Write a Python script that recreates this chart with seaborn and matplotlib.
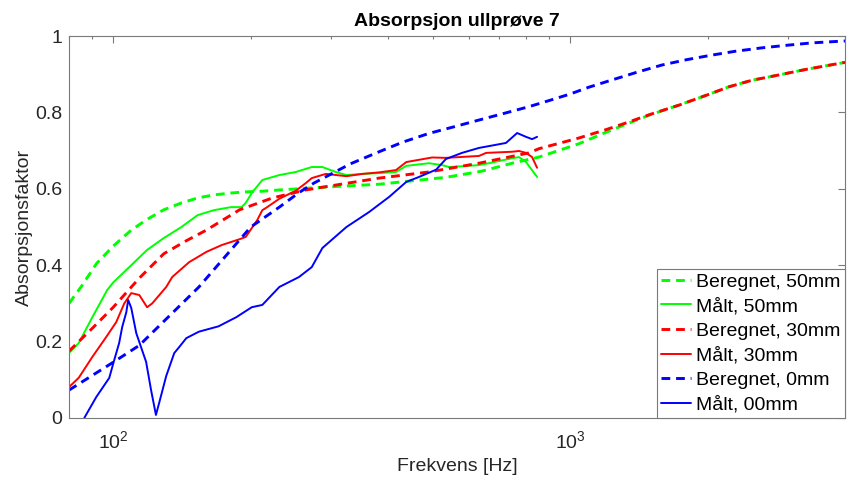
import numpy as np
import matplotlib
matplotlib.use('Agg')
import matplotlib.pyplot as plt
import seaborn as sns
from matplotlib.ticker import FixedLocator, LogLocator, NullFormatter, FuncFormatter

# ---- data ----
freq_ber50 = [80, 85, 92, 100, 109.5, 118.6, 129, 141, 153, 166, 181, 196, 214, 231, 297, 382, 535, 640, 747, 855, 1046, 1200, 1346, 1500, 1732, 2000, 2228, 2500, 2866, 3300, 3918, 4000]
val_ber50 = [0.30, 0.343, 0.405, 0.45, 0.492, 0.52, 0.545, 0.563, 0.576, 0.584, 0.589, 0.592, 0.594, 0.597, 0.605, 0.612, 0.630, 0.646, 0.667, 0.683, 0.718, 0.748, 0.772, 0.794, 0.819, 0.846, 0.867, 0.884, 0.898, 0.913, 0.929, 0.931]

freq_maalt50 = [80, 84, 90, 97, 100, 109.5, 118.6, 129, 141, 153, 166, 181, 191, 195, 201, 212, 231, 251, 272, 287, 307, 324, 351, 382, 416, 438, 491, 525, 544, 632, 665, 747, 773, 801, 847]
val_maalt50 = [0.17, 0.196, 0.264, 0.335, 0.355, 0.40, 0.44, 0.471, 0.50, 0.531, 0.544, 0.552, 0.552, 0.563, 0.589, 0.623, 0.636, 0.644, 0.657, 0.657, 0.644, 0.636, 0.639, 0.641, 0.644, 0.66, 0.667, 0.662, 0.657, 0.662, 0.667, 0.68, 0.683, 0.67, 0.631]

freq_ber30 = [80, 90, 100, 114, 129, 145, 160, 189, 223, 264, 297, 382, 491, 632, 813, 855, 1046, 1200, 1346, 1500, 1732, 2000, 2228, 2500, 2866, 3300, 3918, 4000]
val_ber30 = [0.175, 0.235, 0.29, 0.366, 0.430, 0.465, 0.492, 0.545, 0.576, 0.597, 0.607, 0.628, 0.644, 0.667, 0.694, 0.705, 0.733, 0.755, 0.775, 0.795, 0.819, 0.846, 0.867, 0.884, 0.898, 0.913, 0.929, 0.931]

freq_maalt30 = [80, 84, 90, 96.5, 101.5, 105.7, 109.5, 114, 118.6, 121.7, 130.6, 134.6, 146.6, 160, 173, 189, 195, 201, 206.6, 212, 216, 231, 251, 264, 272, 292, 324, 351, 382, 416, 438, 499, 535, 632, 655, 747, 773, 801, 826, 847]
val_maalt30 = [0.081, 0.105, 0.16, 0.212, 0.251, 0.30, 0.327, 0.322, 0.29, 0.30, 0.343, 0.369, 0.408, 0.435, 0.453, 0.468, 0.474, 0.497, 0.518, 0.544, 0.55, 0.574, 0.595, 0.615, 0.628, 0.639, 0.633, 0.639, 0.643, 0.649, 0.67, 0.682, 0.681, 0.686, 0.694, 0.697, 0.699, 0.694, 0.683, 0.655]

freq_ber0 = [80, 100, 114, 154, 200, 231, 255, 275, 297, 330, 382, 430, 491, 560, 632, 720, 813, 900, 1000, 1100, 1236, 1400, 1589, 1800, 2045, 2300, 2632, 3000, 3388, 4000]
val_ber0 = [0.073, 0.146, 0.19, 0.343, 0.50, 0.552, 0.590, 0.615, 0.636, 0.665, 0.697, 0.722, 0.745, 0.763, 0.780, 0.798, 0.815, 0.831, 0.848, 0.866, 0.885, 0.905, 0.924, 0.938, 0.950, 0.960, 0.969, 0.976, 0.982, 0.987]

freq_maalt0 = [86.4, 91.8, 98, 100.5, 103, 104.6, 106.8, 107.8, 109.5, 112.3, 115, 118, 121, 124, 126, 130.6, 136, 139.5, 144.5, 154, 170, 186, 201, 212, 231, 255, 272, 287, 324, 363, 402, 438, 467, 509, 535, 580, 632, 724, 766, 801, 826, 847]
val_maalt0 = [0.0, 0.055, 0.105, 0.152, 0.196, 0.238, 0.277, 0.309, 0.288, 0.222, 0.186, 0.147, 0.073, 0.008, 0.039, 0.11, 0.17, 0.186, 0.209, 0.226, 0.24, 0.264, 0.29, 0.296, 0.343, 0.369, 0.395, 0.445, 0.50, 0.539, 0.579, 0.618, 0.631, 0.65, 0.678, 0.694, 0.707, 0.72, 0.746, 0.736, 0.73, 0.736]

labels = ['Beregnet, 50mm', 'Målt, 50mm', 'Beregnet, 30mm', 'Målt, 30mm', 'Beregnet, 0mm', 'Målt, 00mm']
y_ticks = [0, 0.2, 0.4, 0.6, 0.8, 1]
y_ticklabels = ['0', '0.2', '0.4', '0.6', '0.8', '1']

# ---- style ----
sns.set_style('white')
plt.rcParams['font.family'] = ['Liberation Sans', 'DejaVu Sans']
plt.rcParams['mathtext.fontset'] = 'custom'
plt.rcParams['mathtext.rm'] = 'Liberation Sans'
plt.rcParams['mathtext.it'] = 'Liberation Sans:italic'
plt.rcParams['mathtext.bf'] = 'Liberation Sans:bold'

txt = '#262626'
spine_c = '#7a7a7a'

fig = plt.figure(figsize=(8.47, 4.82), dpi=100)
ax = fig.add_axes([69/847, 1 - 418/482, (845 - 69)/847, (418 - 36)/482])

series = [
    (freq_ber50, val_ber50, '#00ff00', 'dashed'),
    (freq_maalt50, val_maalt50, '#00ff00', 'solid'),
    (freq_ber30, val_ber30, '#ff0000', 'dashed'),
    (freq_maalt30, val_maalt30, '#ff0000', 'solid'),
    (freq_ber0, val_ber0, '#0000ff', 'dashed'),
    (freq_maalt0, val_maalt0, '#0000ff', 'solid'),
]

for (fx, fy, c, ls), lab in zip(series, labels):
    kw = dict(color=c, linewidth=2.1 if ls == 'dashed' else 1.4)
    sns.lineplot(x=fx, y=fy, ax=ax, sort=False, estimator=None, label=lab, **kw)
    line = ax.lines[-1]
    line.set_solid_joinstyle('round')
    if ls == 'dashed':
        line.set_dashes((3, 2))

ax.set_xscale('log')
ax.set_xlim(80, 4000)
ax.set_ylim(0, 1)

ax.xaxis.set_major_locator(FixedLocator([100, 1000]))
ax.xaxis.set_major_formatter(FuncFormatter(lambda v, p: r'$\mathdefault{10^{%d}}$' % round(np.log10(v))))
ax.xaxis.set_minor_locator(LogLocator(base=10, subs=np.arange(2, 10)))
ax.xaxis.set_minor_formatter(NullFormatter())
ax.set_yticks(y_ticks)
ax.set_yticklabels(y_ticklabels)

ax.tick_params(which='both', direction='in', top=True, right=True, color=spine_c, labelcolor=txt, labelsize=14)
ax.tick_params(which='major', length=5, width=0.8)
ax.tick_params(which='minor', length=2.5, width=0.8)
ax.tick_params(axis='x', which='major', pad=9)
ax.tick_params(axis='y', which='major', pad=5)

for s in ax.spines.values():
    s.set_visible(True)
    s.set_color(spine_c)
    s.set_linewidth(0.8)

ax.set_xlabel('Frekvens [Hz]', fontsize=14, color=txt, labelpad=4)
ax.set_ylabel('Absorpsjonsfaktor', fontsize=14, color=txt, labelpad=1)
ax.set_title('Absorpsjon ullprøve 7', fontsize=14, fontweight='bold', color='black', pad=7)

handles = ax.get_lines()[:6]
leg = ax.legend(handles, labels, loc='lower right', bbox_to_anchor=(1.0, 0.0), borderaxespad=0.0,
                fontsize=14, frameon=True, fancybox=False, framealpha=1, edgecolor=spine_c,
                handlelength=1.55, handletextpad=0.25, labelspacing=0.36, borderpad=0.22)
leg.get_frame().set_linewidth(0.8)
for t in leg.get_texts():
    t.set_color('black')

fig.savefig('out.png', dpi=100)
